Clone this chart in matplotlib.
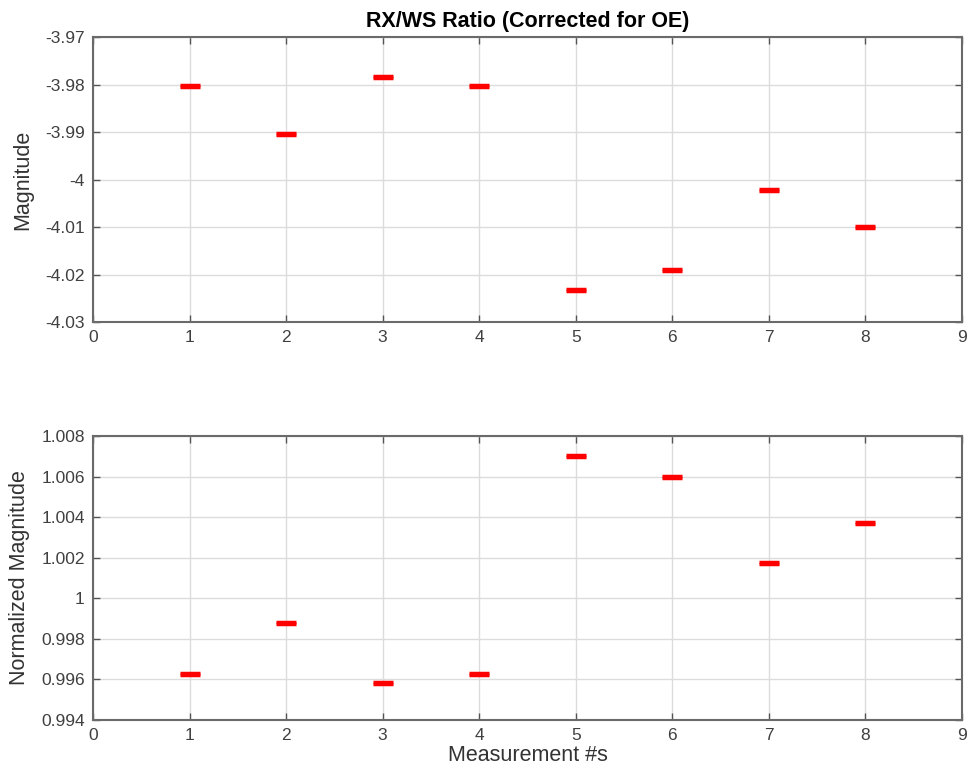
import numpy as np
import matplotlib
matplotlib.use('Agg')
import matplotlib.pyplot as plt

plt.rcParams['font.family'] = ['Liberation Sans', 'DejaVu Sans']

meas = [1, 2, 3, 4, 5, 6, 7, 8]
magnitude = [-3.9803, -3.9904, -3.9784, -3.9803, -4.0233, -4.0191, -4.0022, -4.0100]
norm_mag = [0.99627, 0.99878, 0.99582, 0.99627, 1.00701, 1.00598, 1.00174, 1.00371]

fig = plt.figure(figsize=(9.69, 7.73), dpi=100)
ax1 = fig.add_axes([93/969, 1 - 322/773, 869/969, 285/773])
ax2 = fig.add_axes([93/969, 1 - 720/773, 869/969, 284/773])


def style(ax, ylim, yticks, ylabels):
    ax.set_xlim(0, 9)
    ax.set_xticks(range(10))
    ax.set_ylim(*ylim)
    ax.set_yticks(yticks)
    ax.set_yticklabels(ylabels)
    ax.grid(True, color='#dcdcdc', linewidth=1)
    ax.set_axisbelow(True)
    ax.tick_params(direction='in', top=True, right=True, length=5, width=1,
                   color='#555555', labelsize=12.5, labelcolor='#404040', pad=6)
    for s in ax.spines.values():
        s.set_color('#6a6a6a')
        s.set_linewidth(1.5)


ax1.errorbar(meas, magnitude, yerr=0.00025, fmt='none', ecolor='red',
             elinewidth=2, capsize=7, capthick=2.5)
style(ax1, (-4.03, -3.97), np.arange(-4.03, -3.965, 0.01),
      ['-4.03', '-4.02', '-4.01', '-4', '-3.99', '-3.98', '-3.97'])
ax1.set_ylabel('Magnitude', fontsize=15.5, color='#333333')
ax1.yaxis.set_label_coords(-0.069, 0.5)
ax1.set_title('RX/WS Ratio (Corrected for OE)', fontsize=15.5, fontweight='bold', pad=7)

ax2.errorbar(meas, norm_mag, yerr=0.00006, fmt='none', ecolor='red',
             elinewidth=2, capsize=7, capthick=2.5)
style(ax2, (0.994, 1.008), np.arange(0.994, 1.0085, 0.002),
      ['0.994', '0.996', '0.998', '1', '1.002', '1.004', '1.006', '1.008'])
ax2.set_ylabel('Normalized Magnitude', fontsize=15.5, color='#333333')
ax2.yaxis.set_label_coords(-0.073, 0.5)
ax2.set_xlabel('Measurement #s', fontsize=15.5, color='#333333', labelpad=1)

fig.savefig('out.png', dpi=100)
